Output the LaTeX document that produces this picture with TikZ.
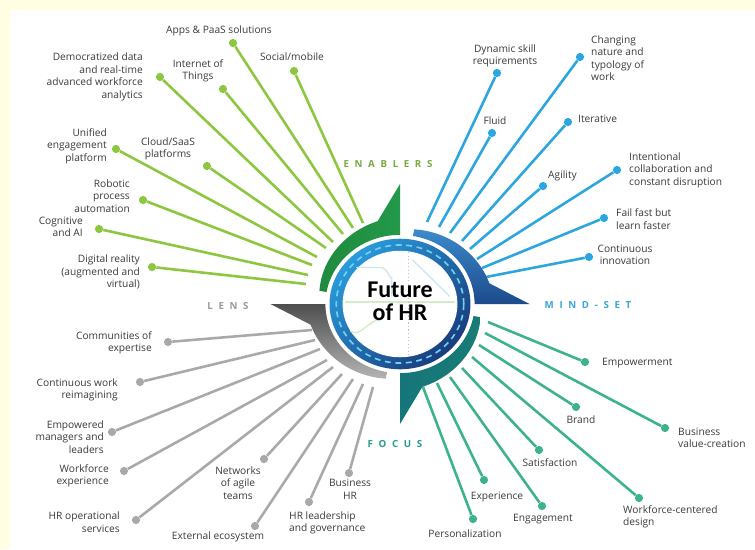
\documentclass[tikz,border=0pt]{standalone}
\usepackage{fontspec}
\setmainfont{Open Sans}
\newfontfamily\hubfont{Carlito}
\newfontfamily\capfont[LetterSpace=58]{Open Sans}

\definecolor{paper}{HTML}{FFFEE2}
\definecolor{ink}{HTML}{3B3B3B}
\definecolor{enab}{HTML}{8DC63F}
\definecolor{mind}{HTML}{2BA6DE}
\definecolor{focs}{HTML}{3DB38C}
\definecolor{lens}{HTML}{A9A9A9}
\definecolor{enabcat}{HTML}{76AA40}
\definecolor{mindcat}{HTML}{3BA5D5}
\definecolor{focscat}{HTML}{1F9E8A}
\definecolor{lenscat}{HTML}{9B9B9B}
\definecolor{g1}{HTML}{1F8A3E}
\definecolor{g2}{HTML}{78C043}
\definecolor{g3}{HTML}{23994A}
\definecolor{b1}{HTML}{3C8ACB}
\definecolor{b2}{HTML}{2A69B0}
\definecolor{b3}{HTML}{1C4A8B}
\definecolor{t1}{HTML}{187C74}
\definecolor{t2}{HTML}{33B28A}
\definecolor{t3}{HTML}{15767A}
\definecolor{s1}{HTML}{B4B4B4}
\definecolor{s2}{HTML}{8C8C8C}
\definecolor{s3}{HTML}{4E4E4E}
\definecolor{road1}{HTML}{2A9BDB}
\definecolor{road2}{HTML}{1A3C7C}
\definecolor{roadline}{HTML}{6ED3F7}
\definecolor{mapg}{HTML}{D3EBC6}
\definecolor{mapb}{HTML}{CDE8F2}

\begin{document}
\begin{tikzpicture}[x=0.03cm,y=-0.03cm,
  lbl/.style={font=\fontsize{8.7}{10.7}\selectfont,text=ink,inner sep=0pt},
  cat/.style={font=\capfont\bfseries\fontsize{8.3}{10}\selectfont,inner sep=0pt},
  dot/.style={circle,inner sep=0pt,minimum size=7pt},
  gdot/.style={dot,fill=enab},
  bdot/.style={dot,fill=mind},
  tdot/.style={dot,fill=focs},
  sdot/.style={dot,fill=lens},
  spoke/.style={line width=2.2pt},
]

\fill[paper] (0,0) rectangle (755,549);
\fill[white] (10,10) rectangle (755,549);
\useasboundingbox (0,0) rectangle (755,549);

% enablers
\draw (233,43) node(APPS)[gdot]{};
\draw (294,71) node(SOCIAL)[gdot]{};
\draw (160,77) node(DEMOC)[gdot]{};
\draw (223,89) node(IOT)[gdot]{};
\draw (116,149) node(UNIF)[gdot]{};
\draw (207,166) node(CLOUD)[gdot]{};
\draw (143,200) node(ROBOT)[gdot]{};
\draw (99,229) node(COGN)[gdot]{};
\draw (152,267) node(DIGI)[gdot]{};

\coordinate (SOCIALe) at (363,223);
\coordinate (APPSe) at (353,228);
\coordinate (IOTe) at (343,234);
\coordinate (DEMOCe) at (333,242);
\coordinate (CLOUDe) at (326,248);
\coordinate (UNIFe) at (317,257);
\coordinate (ROBOTe) at (312,265);
\coordinate (COGNe) at (308,275);
\coordinate (DIGIe) at (306,284);

\draw[spoke,enab] (APPS) -- (APPSe);
\draw[spoke,enab] (SOCIAL) -- (SOCIALe);
\draw[spoke,enab] (DEMOC) -- (DEMOCe);
\draw[spoke,enab] (IOT) -- (IOTe);
\draw[spoke,enab] (UNIF) -- (UNIFe);
\draw[spoke,enab] (CLOUD) -- (CLOUDe);
\draw[spoke,enab] (ROBOT) -- (ROBOTe);
\draw[spoke,enab] (COGN) -- (COGNe);
\draw[spoke,enab] (DIGI) -- (DIGIe);

\draw (219,31) node(APPSt)[lbl]{Apps \& PaaS solutions};
\draw (292,57) node(SOCIALt)[lbl]{Social/mobile};
\draw (143,77) node(DEMOCt)[lbl,anchor=east,align=right]{Democratized data\\and real-time\\advanced workforce\\analytics};
\draw (198,71) node(IOTt)[lbl,align=center]{Internet of\\Things};
\draw (107,146) node(UNIFt)[lbl,anchor=east,align=right]{Unified\\engagement\\platform};
\draw (168,149) node(CLOUDt)[lbl,align=center]{Cloud/SaaS\\platforms};
\draw (130,196) node(ROBOTt)[lbl,anchor=east,align=right]{Robotic\\process\\automation};
\draw (83,227) node(COGNt)[lbl,anchor=east,align=right]{Cognitive\\and AI};
\draw (140,272) node(DIGIt)[lbl,anchor=east,align=right]{Digital reality\\(augmented and\\virtual)};

% mind-set
\draw (497,73) node(DYN)[bdot]{};
\draw (492,133) node(FLUID)[bdot]{};
\draw (580,57) node(CHANGE)[bdot]{};
\draw (568,122) node(ITER)[bdot]{};
\draw (543,186) node(AGIL)[bdot]{};
\draw (617,170) node(INTENT)[bdot]{};
\draw (604,218) node(FAIL)[bdot]{};
\draw (589,257) node(CONTI)[bdot]{};

\coordinate (DYNe) at (427,222);
\coordinate (FLUIDe) at (439,227);
\coordinate (CHANGEe) at (450,233);
\coordinate (ITERe) at (462,241);
\coordinate (AGILe) at (470,249);
\coordinate (INTENTe) at (477,259);
\coordinate (FAILe) at (482,268);
\coordinate (CONTIe) at (486,277);

\draw[spoke,mind] (DYN) -- (DYNe);
\draw[spoke,mind] (FLUID) -- (FLUIDe);
\draw[spoke,mind] (CHANGE) -- (CHANGEe);
\draw[spoke,mind] (ITER) -- (ITERe);
\draw[spoke,mind] (AGIL) -- (AGILe);
\draw[spoke,mind] (INTENT) -- (INTENTe);
\draw[spoke,mind] (FAIL) -- (FAILe);
\draw[spoke,mind] (CONTI) -- (CONTIe);

\draw (505,56) node(DYNt)[lbl,align=center]{Dynamic skill\\requirements};
\draw (591,58) node(CHANGEt)[lbl,anchor=west,align=left]{Changing\\nature and\\typology of\\work};
\draw (495,121) node(FLUIDt)[lbl]{Fluid};
\draw (578,119) node(ITERt)[lbl,anchor=west]{Iterative};
\draw (548,176) node(AGILt)[lbl,anchor=west]{Agility};
\draw (629,170) node(INTENTt)[lbl,anchor=west,align=left]{Intentional\\collaboration and\\constant disruption};
\draw (616,219) node(FAILt)[lbl,anchor=west,align=left]{Fail fast but\\learn faster};
\draw (625,255) node(CONTIt)[lbl,align=center]{Continuous\\innovation};

% focus
\draw (585,362) node(EMPOW)[tdot]{};
\draw (665,428) node(BUSVAL)[tdot]{};
\draw (576,407) node(BRAND)[tdot]{};
\draw (639,498) node(WFDES)[tdot]{};
\draw (539,450) node(SATIS)[tdot]{};
\draw (542,506) node(ENGAG)[tdot]{};
\draw (484,480) node(EXPER)[tdot]{};
\draw (473,519) node(PERSO)[tdot]{};

\coordinate (EMPOWe) at (488,322);
\coordinate (BUSVALe) at (485,333);
\coordinate (BRANDe) at (479,345);
\coordinate (WFDESe) at (472,357);
\coordinate (SATISe) at (462,368);
\coordinate (ENGAGe) at (450,377);
\coordinate (EXPERe) at (437,383);
\coordinate (PERSOe) at (423,387);

\draw[spoke,focs] (EMPOW) -- (EMPOWe);
\draw[spoke,focs] (BUSVAL) -- (BUSVALe);
\draw[spoke,focs] (BRAND) -- (BRANDe);
\draw[spoke,focs] (WFDES) -- (WFDESe);
\draw[spoke,focs] (SATIS) -- (SATISe);
\draw[spoke,focs] (ENGAG) -- (ENGAGe);
\draw[spoke,focs] (EXPER) -- (EXPERe);
\draw[spoke,focs] (PERSO) -- (PERSOe);

\draw (602,363) node(EMPOWt)[lbl,anchor=west]{Empowerment};
\draw (678,438) node(BUSVALt)[lbl,anchor=west,align=left]{Business\\value-creation};
\draw (581,420) node(BRANDt)[lbl]{Brand};
\draw (550,463) node(SATISt)[lbl]{Satisfaction};
\draw (623,517) node(WFDESt)[lbl,anchor=west,align=left]{Workforce-centered\\design};
\draw (497,497) node(EXPERt)[lbl]{Experience};
\draw (543,519) node(ENGAGt)[lbl]{Engagement};
\draw (465,534) node(PERSOt)[lbl]{Personalization};

% lens
\draw (168,342) node(COMM)[sdot]{};
\draw (140,382) node(CONTW)[sdot]{};
\draw (112,432) node(EMPMAN)[sdot]{};
\draw (124,471) node(WFEXP)[sdot]{};
\draw (136,520) node(HROPS)[sdot]{};
\draw (264,459) node(NETW)[sdot]{};
\draw (255,526) node(EXTEC)[sdot]{};
\draw (309,502) node(HRLEAD)[sdot]{};
\draw (349,473) node(BUSHR)[sdot]{};

\coordinate (COMMe) at (312,330);
\coordinate (CONTWe) at (315,340);
\coordinate (EMPMANe) at (320,349);
\coordinate (WFEXPe) at (327,360);
\coordinate (HROPSe) at (333,367);
\coordinate (NETWe) at (342,374);
\coordinate (EXTECe) at (353,379);
\coordinate (HRLEADe) at (363,384);
\coordinate (BUSHRe) at (373,387);

\draw[spoke,lens] (COMM) -- (COMMe);
\draw[spoke,lens] (CONTW) -- (CONTWe);
\draw[spoke,lens] (EMPMAN) -- (EMPMANe);
\draw[spoke,lens] (WFEXP) -- (WFEXPe);
\draw[spoke,lens] (HROPS) -- (HROPSe);
\draw[spoke,lens] (NETW) -- (NETWe);
\draw[spoke,lens] (EXTEC) -- (EXTECe);
\draw[spoke,lens] (HRLEAD) -- (HRLEADe);
\draw[spoke,lens] (BUSHR) -- (BUSHRe);

\draw (152,343) node(COMMt)[lbl,anchor=east,align=right]{Communities of\\expertise};
\draw (118,390) node(CONTWt)[lbl,anchor=east,align=right]{Continuous work\\reimagining};
\draw (104,437) node(EMPMANt)[lbl,anchor=east,align=right]{Empowered\\managers and\\leaders};
\draw (109,476) node(WFEXPt)[lbl,anchor=east,align=right]{Workforce\\experience};
\draw (120,522) node(HROPSt)[lbl,anchor=east,align=right]{HR operational\\services};
\draw (238,483) node(NETWt)[lbl,align=center]{Networks\\of agile\\teams};
\draw (218,537) node(EXTECt)[lbl]{External ecosystem};
\draw (289,523) node(HRLEADt)[lbl,anchor=west,align=left]{HR leadership\\and governance};
\draw (350,489) node(BUSHRt)[lbl,align=center]{Business\\HR};

% compass
\begin{scope}[shift={(400,304)},xscale=1.036,yscale=-0.96]
\foreach \r/\sa/\ca/\cb/\cc in {0/90/g1/g2/g3,90/0/b1/b2/b3,180/-90/t1/t2/t3,-90/180/s1/s2/s3}
  \shade[rotate=\r,top color=\ca,middle color=\cb,bottom color=\cc,shading angle=\sa]
    (0,72) arc[start angle=90,end angle=170,radius=72] -- (170:79)
    -- plot[smooth,domain=170:104,samples=12] (\x:{79+10*(170-\x)/66})
    -- (0,125) -- cycle;
\shade[even odd rule,top color=road1,bottom color=road2,shading angle=45]
  (0,0) circle[radius=68] (0,0) circle[radius=55];
\draw[roadline,line width=1.4pt,dash pattern=on 5pt off 4pt] (0,0) circle[radius=61.5];
\draw[white,line width=0.8pt] (0,0) circle[radius=55];
\draw[mapg,line width=1.2pt] (-53,2) -- (53,2);
\draw[mapb,line width=1.2pt] (-42,38) -- (-18,38) to[out=0,in=90] (-8,28) -- (-8,8);
\draw[mapb,line width=1.2pt] (12,46) -- (48,8);
\draw[mapg,line width=1.2pt] (-48,-28) to[out=40,in=180] (-18,-16);
\draw[lens!70,dotted,line width=1pt] (8,54) -- (8,-54);
\end{scope}

\draw (400,301) node(HUB)[font=\hubfont\bfseries\fontsize{20.5}{19.5}\selectfont,align=center]{Future\\of HR};

\draw (388,164) node(ENAB)[cat,text=enabcat]{ENABLERS};
\draw (588,305) node(MIND)[cat,text=mindcat]{MIND-SET};
\draw (395,444) node(FOCS)[cat,text=focscat]{FOCUS};
\draw (228,306) node(LENS)[cat,text=lenscat]{LENS};

\end{tikzpicture}
\end{document}
